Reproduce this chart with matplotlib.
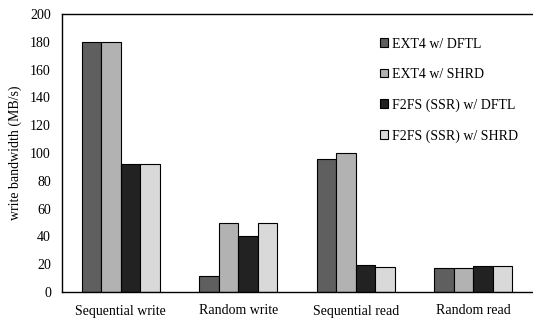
import numpy as np
import matplotlib.pyplot as plt

categories = ["Sequential write", "Random write", "Sequential read", "Random read"]
series_names = ["EXT4 w/ DFTL", "EXT4 w/ SHRD", "F2FS (SSR) w/ DFTL", "F2FS (SSR) w/ SHRD"]
ext4_dftl = [180, 11.5, 95.5, 17.5]
ext4_shrd = [179.5, 50, 100, 17.5]
f2fs_dftl = [92, 40.5, 19.2, 19]
f2fs_shrd = [92, 50, 18.2, 19]
colors = ["#5f5f5f", "#b2b2b2", "#222222", "#d9d9d9"]

plt.rcParams["font.family"] = ["Liberation Serif", "DejaVu Serif"]

fig = plt.figure(figsize=(5.33, 3.21), dpi=100)
ax = fig.add_axes([62 / 533, 1 - 292 / 321, 470 / 533, 278 / 321])

x = np.arange(len(categories))
width = 0.165
for i, vals in enumerate([ext4_dftl, ext4_shrd, f2fs_dftl, f2fs_shrd]):
    ax.bar(x + (i - 1.5) * width, vals, width, color=colors[i],
           edgecolor="black", linewidth=0.8, label=series_names[i])

ax.set_xlim(-0.5, len(categories) - 0.5)
ax.set_ylim(0, 200)
ax.set_yticks(range(0, 201, 20))
ax.set_xticks(x)
ax.set_xticklabels(categories, fontsize=10)
ax.tick_params(axis="both", length=0, labelsize=10)
ax.tick_params(axis="x", pad=9)
ax.tick_params(axis="y", pad=8)
ax.spines["right"].set_visible(False)
for s in ["left", "top", "bottom"]:
    ax.spines[s].set_linewidth(1.0)
ax.set_ylabel("write bandwidth (MB/s)", fontsize=10, labelpad=6)

ax.legend(loc="upper left", bbox_to_anchor=(0.65, 0.96), frameon=False,
          fontsize=10, handlelength=0.6, handleheight=0.6, handletextpad=0.3,
          labelspacing=1.25)

fig.savefig("out.png", dpi=100)
